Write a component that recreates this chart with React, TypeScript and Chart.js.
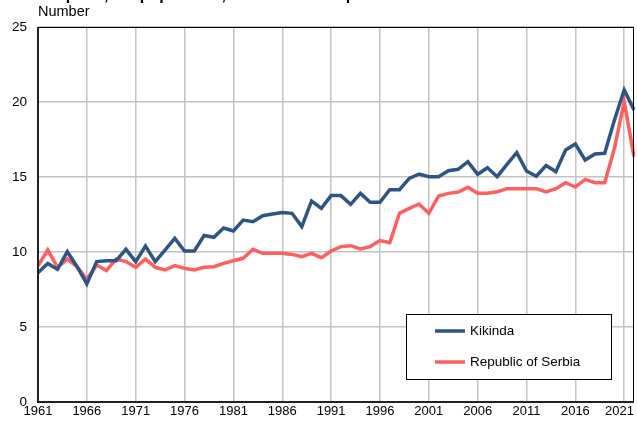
import React, { useEffect, useRef } from "react";
import { Chart, registerables } from "chart.js";

Chart.register(...registerables);

const years: string[] = [];
for (let y = 1961; y <= 2022; y++) years.push(String(y));

const kikinda = [
  8.62, 9.24, 8.84, 10.02, 9.02, 7.87, 9.36, 9.42, 9.42, 10.18,
  9.36, 10.4, 9.36, 10.13, 10.91, 10.07, 10.07, 11.1, 10.98, 11.6,
  11.4, 12.13, 12.02, 12.42, 12.53, 12.64, 12.58, 11.69, 13.4, 12.91,
  13.76, 13.76, 13.18, 13.91, 13.31, 13.31, 14.15, 14.15, 14.91, 15.2,
  15.02, 15.02, 15.42, 15.51, 16.02, 15.18, 15.62, 15.02, 15.84, 16.62,
  15.4, 15.05, 15.76, 15.36, 16.8, 17.2, 16.13, 16.53, 16.58, 18.8,
  20.8, 19.47,
];

const serbia = [
  9.07, 10.13, 8.98, 9.53, 9.02, 8.18, 9.13, 8.76, 9.53, 9.36,
  8.98, 9.53, 8.98, 8.8, 9.09, 8.91, 8.8, 8.98, 9.02, 9.24,
  9.42, 9.58, 10.18, 9.91, 9.91, 9.91, 9.84, 9.69, 9.91, 9.62,
  10.07, 10.36, 10.42, 10.2, 10.36, 10.76, 10.62, 12.58, 12.91, 13.2,
  12.58, 13.73, 13.91, 14.0, 14.31, 13.91, 13.91, 14.02, 14.22, 14.22,
  14.22, 14.22, 14.0, 14.22, 14.62, 14.33, 14.84, 14.62, 14.62, 16.91,
  20.02, 16.36,
];

const seriesNames = ["Kikinda", "Republic of Serbia"];
const yTicks = [0, 5, 10, 15, 20, 25];
const yAxisTitle = "Number";
const titleText = "Deaths per 1,000 population, Kikinda and Republic of Serbia";

const FONT = "'Liberation Sans', Arial, sans-serif";
const BLUE = "#2e5584";
const RED = "#ff5f5f";

const overlayPlugin = {
  id: "overlay",
  afterDraw(chart: any) {
    const ctx = chart.ctx;
    const area = chart.chartArea;
    const xs = chart.scales.x;
    ctx.save();
    // frame
    ctx.strokeStyle = "#000";
    ctx.lineWidth = 1;
    ctx.beginPath();
    ctx.moveTo(area.left, area.top + 0.5);
    ctx.lineTo(area.right, area.top + 0.5);
    ctx.moveTo(area.right - 0.5, area.top);
    ctx.lineTo(area.right - 0.5, area.bottom);
    ctx.stroke();
    ctx.strokeStyle = "#222";
    ctx.lineWidth = 2;
    ctx.beginPath();
    ctx.moveTo(area.left, area.top);
    ctx.lineTo(area.left, area.bottom);
    ctx.lineTo(area.right, area.bottom);
    ctx.stroke();

    // x labels
    ctx.fillStyle = "#000";
    ctx.font = `13px ${FONT}`;
    ctx.textBaseline = "middle";
    ctx.textAlign = "center";
    years.forEach((lab, i) => {
      if (i % 5 !== 0) return;
      let x = xs.getPixelForValue(i);
      const w = ctx.measureText(lab).width;
      if (x + w / 2 > chart.width - 3) x = chart.width - 3 - w / 2;
      ctx.fillText(lab, x, area.bottom + 9);
    });

    // y axis title
    ctx.textAlign = "left";
    ctx.font = `14.5px ${FONT}`;
    ctx.fillText(yAxisTitle, area.left, 12);

    // legend
    const lx = area.right - 228;
    const ly = area.bottom - 88;
    const lw = 205;
    const lh = 65;
    ctx.fillStyle = "#fff";
    ctx.fillRect(lx, ly, lw, lh);
    ctx.strokeStyle = "#000";
    ctx.lineWidth = 1;
    ctx.strokeRect(lx + 0.5, ly + 0.5, lw, lh);
    chart.data.datasets.forEach((ds: any, i: number) => {
      const cy = ly + 17 + i * 31;
      ctx.strokeStyle = ds.borderColor;
      ctx.lineWidth = 3.5;
      ctx.beginPath();
      ctx.moveTo(lx + 29, cy);
      ctx.lineTo(lx + 59, cy);
      ctx.stroke();
      ctx.fillStyle = "#000";
      ctx.font = `13.5px ${FONT}`;
      ctx.textBaseline = "middle";
      ctx.fillText(ds.label, lx + 64, cy);
    });
    ctx.restore();
  },
};

export default function App() {
  const ref = useRef<HTMLCanvasElement>(null);
  useEffect(() => {
    document.body.style.margin = "0";
    const chart = new Chart(ref.current as HTMLCanvasElement, {
      type: "line",
      data: {
        labels: years,
        datasets: [
          {
            label: seriesNames[0],
            data: kikinda,
            borderColor: BLUE,
            backgroundColor: BLUE,
            borderWidth: 3.5,
            pointRadius: 0,
            tension: 0,
          },
          {
            label: seriesNames[1],
            data: serbia,
            borderColor: RED,
            backgroundColor: RED,
            borderWidth: 3.5,
            pointRadius: 0,
            tension: 0,
          },
        ],
      },
      options: {
        animation: false,
        responsive: false,
        maintainAspectRatio: false,
        layout: { padding: { top: 27, right: 3, left: 0, bottom: 0 } },
        plugins: {
          legend: { display: false },
          tooltip: { enabled: false },
          title: { display: false },
        },
        scales: {
          x: {
            type: "category",
            offset: false,
            border: { display: false },
            grid: {
              drawTicks: false,
              lineWidth: 1.5,
              color: (c: any) => (c.index % 5 === 0 ? "#c4c4c4" : "rgba(0,0,0,0)"),
            },
            ticks: {
              autoSkip: false,
              maxRotation: 0,
              color: "rgba(0,0,0,0)",
              font: { family: FONT, size: 13 },
              callback: (_v: any, i: number) => (i % 5 === 0 ? years[i] : ""),
            },
            afterFit: (s: any) => {
              s.height = 24;
            },
          },
          y: {
            min: 0,
            max: 25,
            border: { display: false },
            afterBuildTicks: (axis: any) => {
              axis.ticks = yTicks.map((v) => ({ value: v }));
            },
            grid: { drawTicks: false, lineWidth: 1.5, color: "#c4c4c4" },
            ticks: {
              padding: 11,
              color: "#000",
              font: { family: FONT, size: 13.5 },
            },
            afterFit: (s: any) => {
              s.width = 38;
            },
          },
        },
      },
      plugins: [overlayPlugin],
    });
    return () => chart.destroy();
  }, []);

  return (
    <div style={{ position: "relative", width: 637, height: 426, overflow: "hidden" }}>
      <div
        style={{
          position: "absolute",
          top: -13,
          left: 8,
          fontFamily: FONT,
          fontWeight: "bold",
          fontSize: 16,
          lineHeight: "16px",
          whiteSpace: "nowrap",
        }}
      >
        {titleText}
      </div>
      <canvas ref={ref} width={637} height={426} style={{ display: "block" }} />
    </div>
  );
}
